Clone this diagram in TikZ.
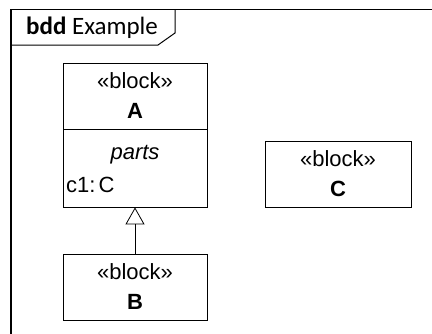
\documentclass[tikz,border=0pt]{standalone}
\usepackage{fontspec}
\setmainfont{Liberation Sans}
\newfontfamily\titlefont{Carlito}
\usetikzlibrary{positioning,arrows.meta}

\begin{document}
\begin{tikzpicture}[x=1pt,y=-1pt]
\tikzstyle{every node} = [inner sep=0pt]
\tikzstyle{block} = [draw, line width=0.8pt, rectangle, minimum width=144pt]
\tikzstyle{blocktext} = [font=\fontsize{22}{30}\selectfont, align=center]
\useasboundingbox (0,0) rectangle (432,333);

% frame
\draw[line width=1.3pt] (11,400) -- (11,9.5) -- (450,9.5);
\draw[line width=1pt] (11,45) -- (158,45) -- (175,33) -- (175,9.5);
\node[right, font=\titlefont\fontsize{25}{28}\selectfont] (title) at (26,28) {\textbf{bdd} Example};

% blocks
\node[block, minimum height=66pt] (a) at (135,96) {};
\node[block, minimum height=78pt] (aparts) at (135,168) {};
\node[blocktext] (atext) at (a) {«block»\\\textbf{A}};
\node[blocktext, font=\fontsize{22}{30}\selectfont\itshape] (partslabel) at (135,155) {parts};
\node[blocktext, right] (c1) at (66,185) {c1:\kern3pt C};

\node[block, minimum height=66pt] (b) at (135,287) {};
\node[blocktext] (btext) at (b) {«block»\\\textbf{B}};

\node[block, minimum width=146pt, minimum height=66pt] (c) at (338,174) {};
\node[blocktext] (ctext) at (c) {«block»\\\textbf{C}};

% generalization
\draw[-{Triangle[open,length=17pt,width=19pt]}, line width=0.8pt] (b) -- (aparts);

\end{tikzpicture}
\end{document}
